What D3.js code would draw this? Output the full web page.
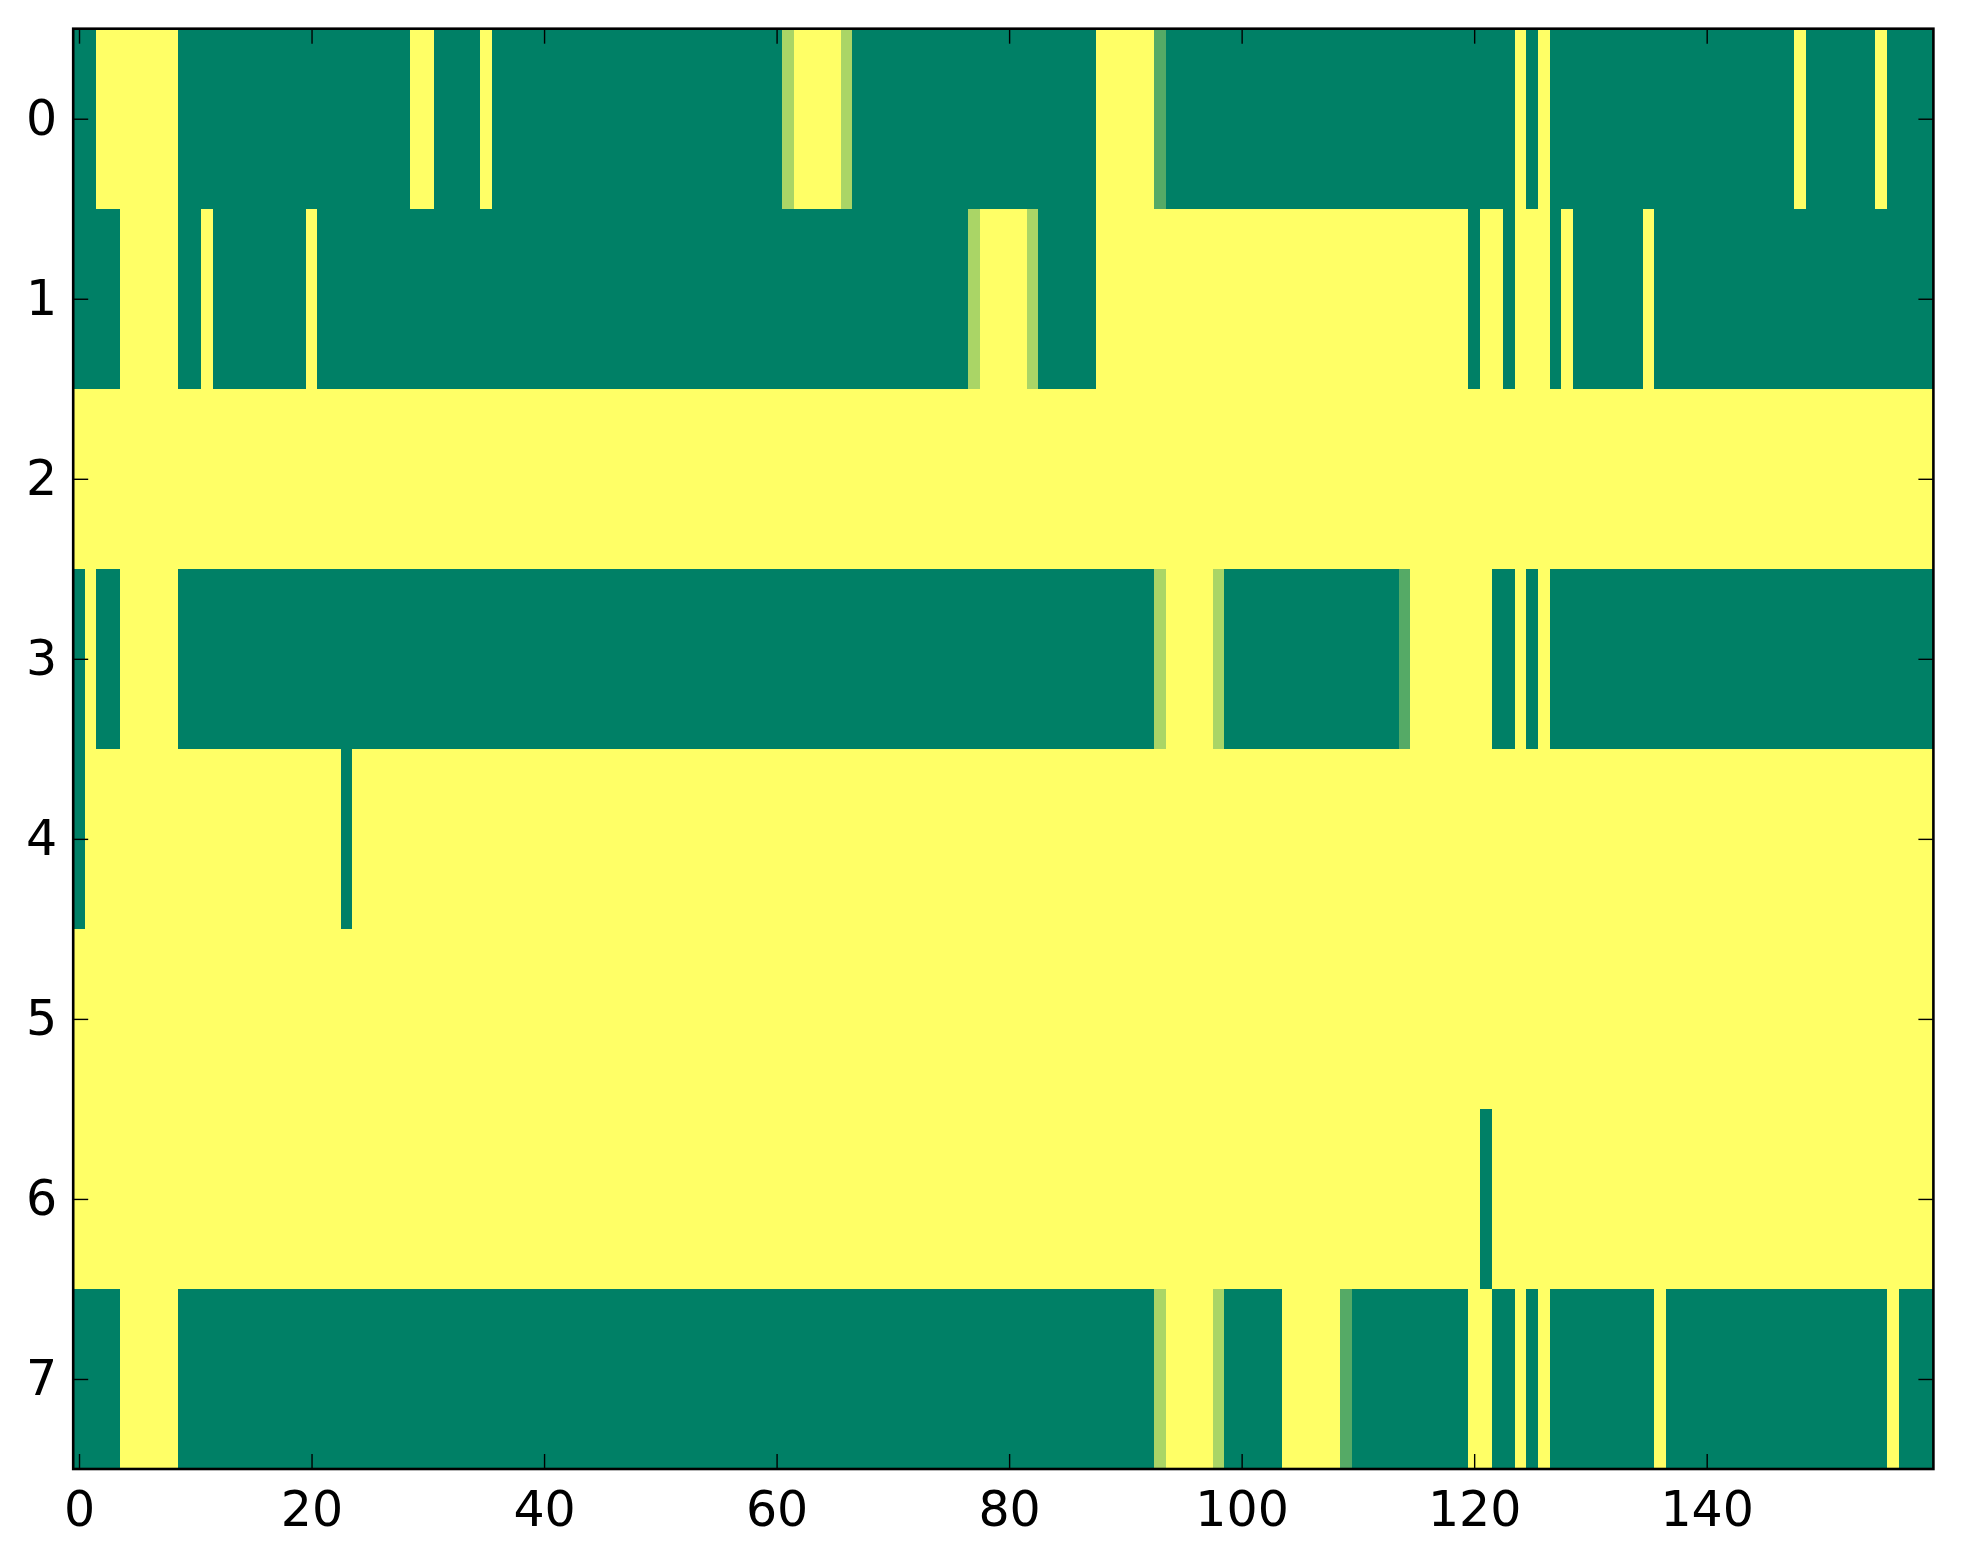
<!DOCTYPE html>
<html>
<head>
<meta charset="utf-8">
<script src="https://cdn.jsdelivr.net/npm/d3@7"></script>
<style>
  body { margin: 0; background: #fff; }
  svg { display: block; }
  .tick text { font-family: "DejaVu Sans", sans-serif; font-size: 49px; fill: #000; }
  .tick line { stroke: #000; stroke-width: 1.4; }
</style>
</head>
<body>
<div id="chart"></div>
<script>
// runs of [value, count] for each row, read left to right (160 columns)
// value 0 = dark green, 1 = yellow, in between = the blended cells
const row0 = [[0,2],[1,7],[0,20],[1,2],[0,4],[1,1],[0,25],[0.667,1],[1,4],[0.667,1],[0,21],[1,5],[0.333,1],[0,30],[1,1],[0,1],[1,1],[0,21],[1,1],[0,6],[1,1],[0,4]];
const row1 = [[0,4],[1,5],[0,2],[1,1],[0,8],[1,1],[0,56],[0.667,1],[1,4],[0.667,1],[0,5],[1,32],[0,1],[1,2],[0,1],[1,3],[0,1],[1,1],[0,6],[1,1],[0,24]];
const row2 = [[1,160]];
const row3 = [[0,1],[1,1],[0,2],[1,5],[0,84],[0.667,1],[1,4],[0.667,1],[0,15],[0.333,1],[1,7],[0,2],[1,1],[0,1],[1,1],[0,33]];
const row4 = [[0,1],[1,22],[0,1],[1,136]];
const row5 = [[1,160]];
const row6 = [[1,121],[0,1],[1,38]];
const row7 = [[0,4],[1,5],[0,84],[0.667,1],[1,4],[0.667,1],[0,5],[1,5],[0.333,1],[0,10],[1,2],[0,2],[1,1],[0,1],[1,1],[0,9],[1,1],[0,19],[1,1],[0,3]];

const rows = [row0, row1, row2, row3, row4, row5, row6, row7];
const xTicks = [0, 20, 40, 60, 80, 100, 120, 140];
const yTicks = [0, 1, 2, 3, 4, 5, 6, 7];
const nCols = 160;

const width = 1963;
const height = 1564;
const margin = {top: 28.7, right: width - 1933.4, bottom: height - 1469, left: 73.2};
const innerWidth = width - margin.left - margin.right;
const innerHeight = height - margin.top - margin.bottom;

// unpack the runs into cells
const cells = [];
rows.forEach((runs, r) => {
    let c = 0;
    runs.forEach(([v, n]) => {
        for (let i = 0; i < n; i++) {
            cells.push({row: r, col: c, value: v});
            c++;
        }
    });
});

const svg = d3.select("#chart")
    .append("svg")
    .attr("width", width)
    .attr("height", height);

const innerChart = svg.append("g")
    .attr("transform", `translate(${margin.left}, ${margin.top})`);

const xScale = d3.scaleLinear()
    .domain([-0.5, nCols - 0.5])
    .range([0, innerWidth]);

const yScale = d3.scaleLinear()
    .domain([-0.5, rows.length - 0.5])
    .range([0, innerHeight]);

// matplotlib "summer": linear from green to yellow
const colorScale = d3.scaleLinear()
    .domain([0, 1])
    .range(["#008066", "#ffff66"]);

innerChart.append("g")
    .attr("class", "cells")
    .selectAll("rect")
    .data(cells)
    .join("rect")
        .attr("x", d => xScale(d.col - 0.5))
        .attr("y", d => yScale(d.row - 0.5))
        .attr("width", xScale(1) - xScale(0) + 0.4)
        .attr("height", yScale(1) - yScale(0) + 0.4)
        .attr("fill", d => colorScale(d.value))
        .attr("shape-rendering", "crispEdges");

//ticks point inward on all four sides, labels only bottom and left
const bottomAxis = d3.axisBottom(xScale).tickValues(xTicks).tickSize(-15).tickPadding(22);
const topAxis = d3.axisTop(xScale).tickValues(xTicks).tickSize(-15).tickFormat("");
const leftAxis = d3.axisLeft(yScale).tickValues(yTicks).tickSize(-15).tickPadding(16);
const rightAxis = d3.axisRight(yScale).tickValues(yTicks).tickSize(-15).tickFormat("");

innerChart.append("g").attr("class", "axis-x")
    .attr("transform", `translate(0, ${innerHeight})`)
    .call(bottomAxis);
innerChart.append("g").attr("class", "axis-top").call(topAxis);
innerChart.append("g").attr("class", "axis-y").call(leftAxis);
innerChart.append("g").attr("class", "axis-right")
    .attr("transform", `translate(${innerWidth}, 0)`)
    .call(rightAxis);

innerChart.selectAll(".domain").remove();

innerChart.append("rect")
    .attr("x", 0)
    .attr("y", 0)
    .attr("width", innerWidth)
    .attr("height", innerHeight)
    .attr("fill", "none")
    .attr("stroke", "#000")
    .attr("stroke-width", 2.6);
</script>
</body>
</html>
